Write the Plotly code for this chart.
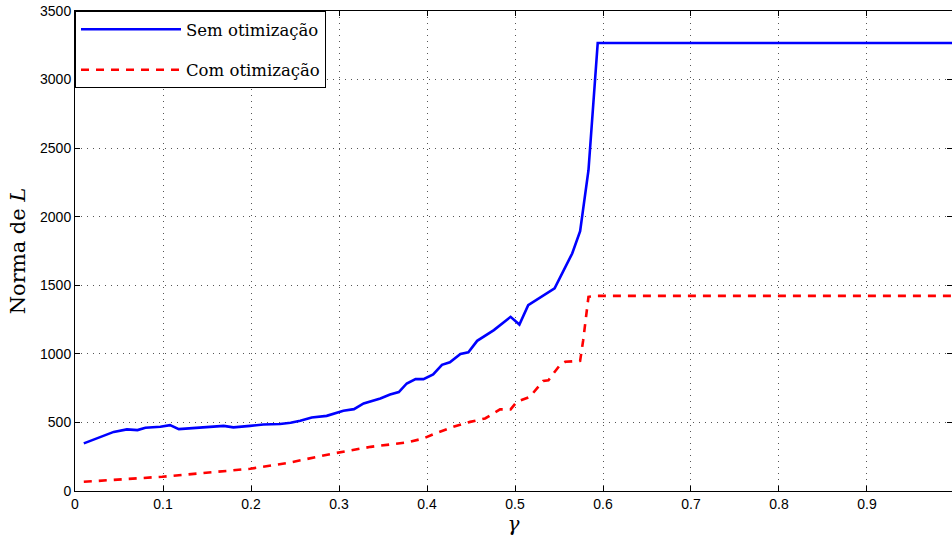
import plotly.graph_objects as go

gamma_sem = [0.01, 0.033, 0.044, 0.059, 0.071, 0.080, 0.097, 0.108, 0.118, 0.169, 0.180, 0.199,
             0.214, 0.233, 0.245, 0.256, 0.269, 0.286, 0.305, 0.317, 0.328, 0.347, 0.358, 0.368,
             0.377, 0.387, 0.396, 0.407, 0.417, 0.426, 0.438, 0.447, 0.457, 0.476, 0.495, 0.505,
             0.515, 0.545, 0.565, 0.574, 0.5835, 0.594, 1.0]
norma_sem = [347, 407, 431, 449, 444, 461, 468, 480, 451, 475, 464, 475,
             485, 488, 497, 512, 536, 548, 585, 597, 638, 675, 704, 721,
             784, 816, 816, 850, 920, 939, 1000, 1012, 1095, 1173, 1270, 1214,
             1355, 1477, 1732, 1894, 2339, 3267, 3267]

gamma_com = [0.01, 0.099, 0.199, 0.243, 0.294, 0.336, 0.377, 0.396, 0.411, 0.430, 0.449, 0.466,
             0.483, 0.495, 0.502, 0.508, 0.517, 0.532, 0.538, 0.551, 0.557, 0.574, 0.5775,
             0.5835, 0.593, 1.0]
norma_com = [67, 104, 162, 206, 274, 322, 354, 383, 424, 468, 504, 529,
             595, 595, 650, 667, 687, 803, 808, 918, 942, 949, 1100,
             1416, 1423, 1423]

x_ticks = [0, 0.1, 0.2, 0.3, 0.4, 0.5, 0.6, 0.7, 0.8, 0.9]
x_tick_labels = ["0", "0.1", "0.2", "0.3", "0.4", "0.5", "0.6", "0.7", "0.8", "0.9"]
y_ticks = [0, 500, 1000, 1500, 2000, 2500, 3000, 3500]

fig = go.Figure()
fig.add_trace(go.Scatter(x=gamma_sem, y=norma_sem, mode="lines", name="Sem otimização",
                         line=dict(color="#0000ff", width=2.6), legendgroup="a"))
fig.add_trace(go.Scatter(x=gamma_com, y=norma_com, mode="lines", name="Com otimização",
                         line=dict(color="#ff0000", width=2.6, dash="8px,7px"), legendgroup="b"))

axis_common = dict(
    showline=True, linecolor="black", linewidth=1, mirror="ticks",
    ticks="inside", ticklen=5, tickcolor="black",
    showgrid=True, gridcolor="#555555", gridwidth=1, griddash="1px,5px",
    zeroline=False,
    tickfont=dict(family="Liberation Sans, Arial, sans-serif", size=14, color="black"),
)

fig.update_layout(
    width=952, height=537,
    margin=dict(l=75, r=0, t=11, b=46),
    paper_bgcolor="white", plot_bgcolor="white",
    showlegend=True,
    legend=dict(x=0.0, y=1.0, xanchor="left", yanchor="top",
                bordercolor="black", borderwidth=1, bgcolor="white",
                font=dict(family="DejaVu Serif, serif", size=16.5, color="black"),
                tracegroupgap=16, itemwidth=100, entrywidth=250),
    xaxis=dict(range=[0, 0.9966], tickvals=x_ticks, ticktext=x_tick_labels,
               title=dict(text="<i>γ</i>", font=dict(family="DejaVu Serif, serif", size=20, color="black"),
                          standoff=2),
               **axis_common),
    yaxis=dict(range=[0, 3500], tickvals=y_ticks,
               title=dict(text="Norma de <i>L</i>", font=dict(family="DejaVu Serif, serif", size=21, color="black"),
                          standoff=8),
               **axis_common),
)

fig.write_html("out.html")
